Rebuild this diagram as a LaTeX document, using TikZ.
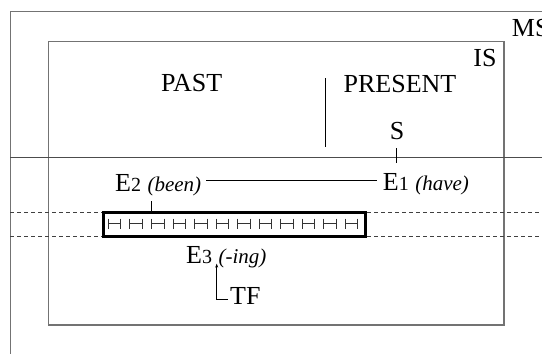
\documentclass[tikz,border=0pt]{standalone}
\usepackage{fontspec}
\setmainfont{Liberation Serif}
\usetikzlibrary{arrows.meta}
\begin{document}
\begin{tikzpicture}[x=1pt,y=-1pt,
  boxline/.style={draw=black!55, line width=1.3pt},
  mainline/.style={draw=black!70, line width=1.1pt},
  dashline/.style={draw=black!75, line width=0.9pt, dash pattern=on 4pt off 3pt},
  big/.style={font=\fontsize{26}{26}\selectfont, inner sep=0pt},
  lbl/.style={font=\fontsize{26}{26}\selectfont, inner sep=0pt, anchor=base west},
  thinline/.style={draw=black, line width=0.8pt},
  barbox/.style={draw=black, line width=3pt, fill=white, inner sep=0pt},
  hmark/.style={draw=black!80, line width=0.8pt}]
\newcommand{\dgx}[1]{{\fontsize{20}{20}\selectfont #1}}
\newcommand{\itx}[1]{{\fontsize{21}{21}\selectfont\itshape #1}}
\useasboundingbox (0,0) rectangle (542,354);
% outer MS box
\draw[boxline] (10.3,11.5) rectangle (620,420);
% inner IS box
\draw[boxline] (48.3,41.8) rectangle (504,325);
% solid line
\draw[mainline] (10.3,157.5) -- (542,157.5);
% dashed lines
\draw[dashline] (10.3,212) -- (542,212);
\draw[dashline] (10.3,236.3) -- (542,236.3);
% labels
\node[lbl] (ms) at (511.7,36) {MS};
\node[big, anchor=base] (is) at (485,66.7) {IS};
\node[big, anchor=base] (past) at (191.7,91) {PAST};
\node[big, anchor=base] (present) at (400,92) {PRESENT};
\node[big, anchor=base] (s) at (397,139) {S};
\coordinate (divtop) at (325.7,78);
\coordinate (divbot) at (325.7,147);
\draw[thinline] (divtop) -- (divbot);
\node[lbl] (e2) at (115,191.5) {E\dgx{2} \itx{(been)}};
\node[lbl] (e1) at (382.7,190) {E\dgx{1} \itx{(have)}};
\draw[thinline] ([xshift=5pt]e2.east |- 0,180) -- ([xshift=-6pt]e1.west |- 0,180);
\coordinate (stick) at (396.5,148);
\draw[thinline] (stick) -- ++(0,15);
% thick bar
\node[barbox, minimum width=262.5pt, minimum height=24.3pt] (bar) at (234.3,224.2) {};
\foreach \i in {0,...,11}{
  \pgfmathsetmacro{\xa}{108.3+21.55*\i}
  \draw[hmark] (\xa,218.5) -- (\xa,229) (\xa,223.7) -- (\xa+12.5,223.7) (\xa+12.5,218.5) -- (\xa+12.5,229);
}
\coordinate (e2tick) at (151,201);
\draw[thinline] (e2tick) -- (e2tick |- bar.north);
\node[lbl] (e3) at (186,263) {E\dgx{3} \itx{(-ing)}};
\node[lbl] (tf) at (230,304) {TF};
\coordinate (tfcorner) at (216.7,299);
\draw[thinline, -{Stealth[length=4pt,width=3pt]}] ([xshift=-2pt]tf.west |- tfcorner) -- (tfcorner) -- ([yshift=4pt]e3.south -| tfcorner);
\end{tikzpicture}
\end{document}
